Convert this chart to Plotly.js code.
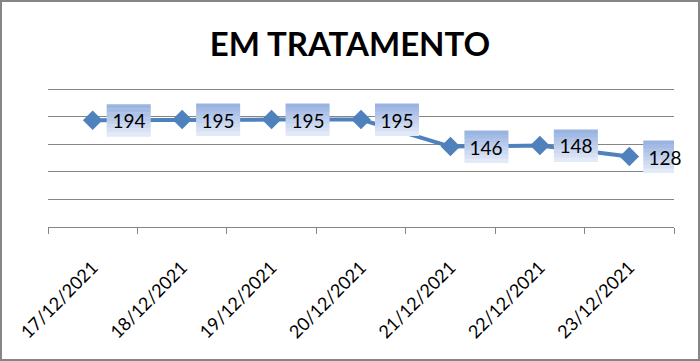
<!DOCTYPE html>
<html>
<head>
<meta charset="utf-8">
<script src="https://cdn.plot.ly/plotly-3.0.1.min.js"></script>
<style>
html,body{margin:0;padding:0;background:#fff;}
#chart{width:696px;height:357px;border:2px solid #868686;}
</style>
</head>
<body>
<div id="chart"></div>
<script>
const categories = ["17/12/2021","18/12/2021","19/12/2021","20/12/2021","21/12/2021","22/12/2021","23/12/2021"];
const values = [194, 195, 195, 195, 146, 148, 128];
const titleText = "EM TRATAMENTO";

const trace = {
  x: categories,
  y: values,
  type: "scatter",
  mode: "lines+markers",
  line: {color: "#4f81bd", width: 4},
  marker: {symbol: "diamond", size: 15, color: "#4f81bd"},
  hoverinfo: "x+y"
};

// label box gradient (top -> bottom)
const topRGB = [154, 180, 226], botRGB = [226, 233, 247];
const strips = 8, boxW = 44, boxH = 32, boxShift = 36;
const shapes = [];
categories.forEach((c, i) => {
  for (let k = 0; k < strips; k++) {
    const t = k / (strips - 1);
    const col = topRGB.map((v, j) => Math.round(v + (botRGB[j] - v) * t));
    shapes.push({
      type: "rect", layer: "above",
      xref: "x", yref: "y",
      xsizemode: "pixel", ysizemode: "pixel",
      xanchor: i, yanchor: values[i],
      x0: boxShift - boxW / 2, x1: boxShift + boxW / 2,
      y0: boxH / 2 - k * boxH / strips, y1: boxH / 2 - (k + 1) * boxH / strips - 0.5,
      fillcolor: `rgb(${col.join(",")})`,
      line: {width: 0}
    });
  }
});

const annotations = categories.map((c, i) => ({
  x: c, y: values[i], xref: "x", yref: "y",
  text: String(values[i]),
  showarrow: false,
  xshift: boxShift,
  width: boxW, height: boxH,
  font: {family: "Lato, sans-serif", size: 19, color: "#000"},
  align: "center", valign: "middle"
}));

const layout = {
  width: 696, height: 357,
  margin: {l: 46, r: 24, t: 86, b: 132},
  paper_bgcolor: "#fff", plot_bgcolor: "#fff",
  showlegend: false,
  title: {
    text: titleText,
    font: {family: "Lato, sans-serif", size: 33, color: "#000", weight: "bold"},
    x: 0.5, xref: "container", y: 0.88, yref: "container", yanchor: "middle"
  },
  xaxis: {
    type: "category",
    range: [-0.5, 6.5],
    showline: true, linecolor: "#868686", linewidth: 1,
    ticks: "outside", tickson: "boundaries", ticklen: 6, tickcolor: "#868686",
    tickangle: -45,
    ticklabelstandoff: 22,
    tickfont: {family: "Lato, sans-serif", size: 18, color: "#000"},
    showgrid: false
  },
  yaxis: {
    range: [0, 252.4], tickvals: [50, 100, 150, 200, 250],
    showticklabels: false, ticks: "",
    showgrid: true, gridcolor: "#868686", gridwidth: 1,
    zeroline: false, showline: false
  },
  shapes: shapes,
  annotations: annotations
};

Plotly.newPlot("chart", [trace], layout, {displayModeBar: false, staticPlot: true});
</script>
</body>
</html>
